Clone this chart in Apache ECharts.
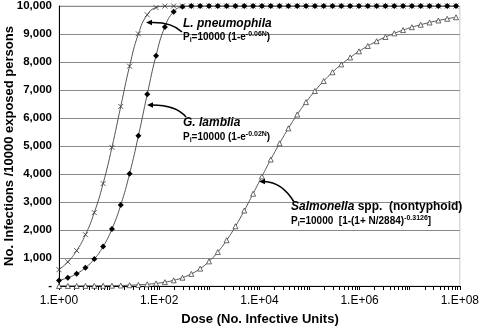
<!DOCTYPE html>
<html>
<head>
<meta charset="utf-8">
<script src="https://cdn.jsdelivr.net/npm/echarts@6/dist/echarts.min.js"></script>
<style>
  html, body { margin: 0; padding: 0; background: #fff; }
  #chart { width: 482px; height: 326px; }
</style>
</head>
<body>
<div id="chart"></div>
<script>
// dose points (markers are evenly spaced on the log axis, ratio 1.5)
var doses = [1, 1.5, 2.25, 3.375, 5.0625, 7.594, 11.39, 17.09, 25.63, 38.44,
  57.67, 86.5, 129.7, 194.6, 291.9, 437.9, 656.8, 985.3, 1478, 2217,
  3325, 4988, 7482, 11223, 16834, 25251, 37877, 56815, 85223, 127834,
  191751, 287627, 431440, 647160, 970740, 1456110, 2184164, 3276246, 4914369, 7371554,
  11057332, 16585998, 24878997, 37318495, 55977743, 83966614];

// infections per 10000 exposed persons
var pneumophila = [582, 861, 1263, 1833, 2620, 3659, 4951, 6413, 7851, 9004,
  9686, 9944, 9996, 10000, 10000, 10000, 10000, 10000, 10000, 10000,
  10000, 10000, 10000, 10000, 10000, 10000, 10000, 10000, 10000, 10000,
  10000, 10000, 10000, 10000, 10000, 10000, 10000, 10000, 10000, 10000,
  10000, 10000, 10000, 10000, 10000, 10000];
var lamblia = [198, 296, 440, 653, 963, 1409, 2037, 2894, 4011, 5364,
  6844, 8227, 9254, 9796, 9971, 9998, 10000, 10000, 10000, 10000,
  10000, 10000, 10000, 10000, 10000, 10000, 10000, 10000, 10000, 10000,
  10000, 10000, 10000, 10000, 10000, 10000, 10000, 10000, 10000, 10000,
  10000, 10000, 10000, 10000, 10000, 10000];
var salmonella = [1, 2, 2, 4, 5, 8, 12, 18, 28, 41,
  62, 92, 137, 202, 297, 432, 621, 878, 1213, 1633,
  2132, 2694, 3296, 3912, 4517, 5094, 5631, 6122, 6566, 6964,
  7320, 7635, 7914, 8161, 8380, 8572, 8742, 8892, 9023, 9140,
  9242, 9332, 9412, 9482, 9543, 9598];

function pairs(ys) {
  return doses.map(function (d, i) { return [d, ys[i]]; });
}

var lineCol = '#555';
var myChart = echarts.init(document.getElementById('chart'));

var formulaRich = {
  b: { fontFamily: 'Liberation Sans', fontWeight: 'bold', fontSize: 10, color: '#000' },
  sub: { fontFamily: 'Liberation Sans', fontWeight: 'bold', fontSize: 7, color: '#000', padding: [5, 0, 0, 0] },
  sup: { fontFamily: 'Liberation Sans', fontWeight: 'bold', fontSize: 7, color: '#000', padding: [0, 0, 6, 0] }
};
var nameStyle = { fontFamily: 'Liberation Sans', fontWeight: 'bold', fontStyle: 'italic', fontSize: 12, fill: '#000' };
var titleStyle = { fontFamily: 'Liberation Sans', fontWeight: 'bold', fontSize: 13, fill: '#000', align: 'center', verticalAlign: 'middle' };

function arrow(x1, y1, cx, cy, x2, y2) {
  return [
    { type: 'bezierCurve', shape: { x1: x1, y1: y1, cpx1: cx, cpy1: cy, x2: x2, y2: y2 },
      style: { stroke: '#000', lineWidth: 1.6, fill: null }, z: 100 },
    { type: 'polygon', shape: { points: [[x2 - 5, y2], [x2 + 1, y2 - 2.8], [x2 + 1, y2 + 2.8]] },
      style: { fill: '#000' }, z: 100 }
  ];
}

var option = {
  animation: false,
  grid: {
    left: 59, right: 21, top: 6, bottom: 40,
    show: true, borderColor: '#c8c8c8', borderWidth: 1
  },
  xAxis: {
    type: 'log',
    logBase: 10,
    min: 1,
    max: 100000000,
    axisLine: { lineStyle: { color: '#000', width: 1 } },
    axisTick: { show: true, length: 4, lineStyle: { color: '#000' } },
    minorTick: { show: true, splitNumber: 9, length: 4, lineStyle: { color: '#000' } },
    splitLine: { show: false },
    axisLabel: {
      margin: 9,
      fontFamily: 'Liberation Sans',
      fontSize: 12,
      color: '#000',
      formatter: function (v) {
        var e = Math.round(Math.log10(v));
        if (e % 2 !== 0) return '';
        return '1.E+' + (e < 10 ? '0' + e : e);
      }
    }
  },
  yAxis: {
    type: 'value',
    min: 0,
    max: 10000,
    interval: 1000,
    axisLine: { show: true, lineStyle: { color: '#000', width: 1 } },
    axisTick: { show: false },
    splitLine: { lineStyle: { color: '#8a8a8a', width: 1 } },
    axisLabel: {
      margin: 7,
      fontFamily: 'Liberation Sans',
      fontWeight: 'bold',
      fontSize: 11.5,
      color: '#000',
      formatter: function (v) {
        return v === 0 ? '-' : v.toLocaleString('en-US');
      }
    }
  },
  series: [
    {
      name: 'L. pneumophila',
      type: 'line',
      data: pairs(pneumophila),
      symbol: 'path://M0,0L10,10M10,0L0,10',
      symbolSize: 5,
      showAllSymbol: true,
      smooth: true,
      lineStyle: { color: lineCol, width: 1 },
      itemStyle: { color: 'rgba(0,0,0,0)', borderColor: '#333', borderWidth: 0.8 }
    },
    {
      name: 'G. lamblia',
      type: 'line',
      data: pairs(lamblia),
      symbol: 'diamond',
      symbolSize: 6,
      showAllSymbol: true,
      smooth: true,
      lineStyle: { color: lineCol, width: 1 },
      itemStyle: { color: '#000', borderColor: '#000', borderWidth: 0 }
    },
    {
      name: 'Salmonella',
      type: 'line',
      data: pairs(salmonella),
      symbol: 'triangle',
      symbolSize: 5,
      showAllSymbol: true,
      smooth: true,
      lineStyle: { color: lineCol, width: 1 },
      itemStyle: { color: '#fff', borderColor: '#444', borderWidth: 0.8 }
    }
  ],
  graphic: [].concat(
    arrow(182, 32, 172, 22, 151, 22.5),
    arrow(186, 117, 176, 105, 152, 105),
    arrow(294, 202, 282, 182, 264, 181.5),
    [
      // axis titles
      { type: 'text', x: 9, y: 146, rotation: Math.PI / 2, z: 100,
        style: Object.assign({ text: 'No. Infections /10000 exposed persons' }, titleStyle) },
      { type: 'text', x: 260, y: 319, z: 100,
        style: Object.assign({ text: 'Dose (No. Infective Units)' }, titleStyle) },
      // curve annotations
      { type: 'text', left: 183, top: 18, style: Object.assign({ text: 'L. pneumophila' }, nameStyle), z: 100 },
      { type: 'text', left: 183, top: 31, z: 100,
        style: { text: '{b|P}{sub|i}{b|=10000 (1-e}{sup|-0.06N}{b|)}', rich: formulaRich } },
      { type: 'text', left: 183, top: 117, style: Object.assign({ text: 'G. lamblia' }, nameStyle), z: 100 },
      { type: 'text', left: 183, top: 131, z: 100,
        style: { text: '{b|P}{sub|i}{b|=10000 (1-e}{sup|-0.02N}{b|)}', rich: formulaRich } },
      { type: 'text', left: 291, top: 201, z: 100,
        style: { rich: {
          i: { fontFamily: 'Liberation Sans', fontWeight: 'bold', fontStyle: 'italic', fontSize: 12, color: '#000' },
          n: { fontFamily: 'Liberation Sans', fontWeight: 'bold', fontSize: 12, color: '#000' }
        }, text: '{i|Salmonella}{n| spp.  (nontyphoid)}' } },
      { type: 'text', left: 291, top: 215, z: 100,
        style: { text: '{b|P}{sub|i}{b|=10000  [1-(1+ N/2884)}{sup|-0.3126}{b|]}', rich: formulaRich } }
    ]
  )
};
myChart.setOption(option);
</script>
</body>
</html>
